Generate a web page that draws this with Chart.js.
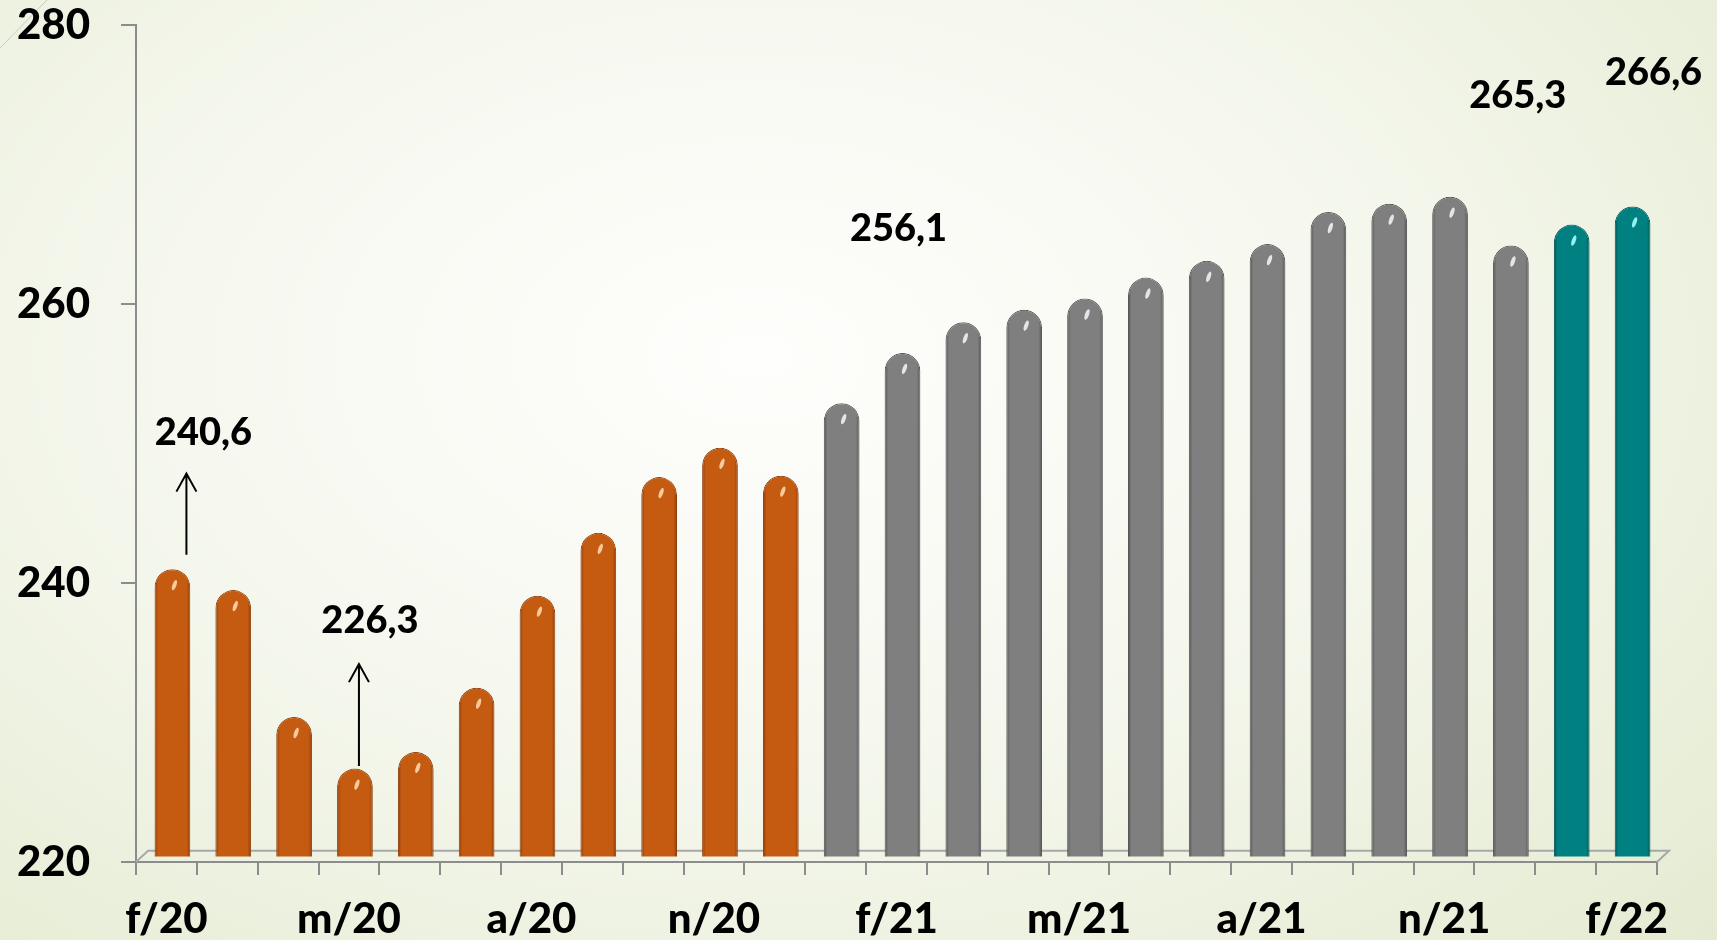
<!DOCTYPE html>
<html lang="pt">
<head>
<meta charset="utf-8">
<title>Índice mensal fev/2020 – fev/2022</title>
<script src="https://cdn.jsdelivr.net/npm/chart.js@4.4.1/dist/chart.umd.min.js"></script>
<style>
  html, body { margin: 0; padding: 0; }
  body {
    width: 1717px;
    height: 940px;
    overflow: hidden;
    background: radial-gradient(ellipse 80% 95% at 44% 38%, #fefefc 0%, #f6f8ef 42%, #e3eacf 100%);
  }
  canvas { display: block; }
</style>
</head>
<body>
<canvas id="chart" width="1717" height="940"></canvas>
<script>
// months, one label per bar (only every third one is printed)
const months2020 = ['f/20', 'm/20', 'a/20', 'm/20', 'j/20', 'j/20', 'a/20', 's/20', 'o/20', 'n/20', 'd/20'];
const months2021 = ['j/21', 'f/21', 'm/21', 'a/21', 'm/21', 'j/21', 'j/21', 'a/21', 's/21', 'o/21', 'n/21', 'd/21'];
const months2022 = ['j/22', 'f/22'];

const values2020 = [240.6, 239.1, 230.0, 226.3, 227.5, 232.1, 238.7, 243.2, 247.2, 249.3, 247.3];
const values2021 = [252.5, 256.1, 258.3, 259.2, 260.0, 261.5, 262.7, 263.9, 266.2, 266.8, 267.3, 263.8];
const values2022 = [265.3, 266.6];

const yTicks = [220, 240, 260, 280];

// bars that get their value written above them
const highlighted = [0, 3, 12, 23, 24];

const labels = [...months2020, ...months2021, ...months2022];
const values = [...values2020, ...values2021, ...values2022];

// fill / rim colour per year
const yearColors = [
  { base: '#C55A11', rim: '#8f3f0a', shine: 'rgba(255,214,170,0.9)' },
  { base: '#7F7F7F', rim: '#555555', shine: 'rgba(255,255,255,0.8)' },
  { base: '#008080', rim: '#005555', shine: 'rgba(160,255,255,0.9)' }
];
const yearOf = [
  ...values2020.map(() => 0),
  ...values2021.map(() => 1),
  ...values2022.map(() => 2)
];

const BAR_PCT = 0.587;
const FONT = 'Lato, "Open Sans", sans-serif';

// placement of the value callouts, relative to each bar's value point
const calloutStyle = {
  0:  { dx: 37,  dy: -130, arrow: { dx: 20, from: -20, to: -101 } },
  3:  { dx: 21,  dy: -141, arrow: { dx: 10, from: -8, to: -110 } },
  12: { dx: 2,   dy: -117 },
  23: { dx: -48, dy: -122 },
  24: { dx: 27,  dy: -127 }
};

const fmt = v => v.toFixed(1).replace('.', ',');

// pseudo-3D: bars sit half way back on a shallow floor
const depth = { dx: 6, dy: -5.5 };
const floor = { dx: 12, dy: -11.3 };

function cylinderFill(ctx) {
  const c = yearColors[yearOf[ctx.dataIndex] || 0];
  const chart = ctx.chart;
  const xs = chart.scales && chart.scales.x;
  if (!chart.chartArea || !xs || ctx.dataIndex === undefined) return c.base;
  const cx = xs.getPixelForValue(ctx.dataIndex);
  const half = xs.width / labels.length * BAR_PCT / 2;
  const g = chart.ctx.createLinearGradient(cx - half, 0, cx + half, 0);
  g.addColorStop(0, c.rim);
  g.addColorStop(0.1, c.base);
  g.addColorStop(0.9, c.base);
  g.addColorStop(1, c.rim);
  return g;
}

const decor = {
  id: 'decor',
  beforeDraw(chart) {
    const ctx = chart.ctx;
    ctx.save();
    ctx.strokeStyle = '#c6cdbb';
    ctx.lineWidth = 1;
    ctx.beginPath();
    ctx.moveTo(0, 48);
    ctx.lineTo(47, 0);
    ctx.stroke();
    ctx.restore();
  },
  beforeDatasetsDraw(chart) {
    const { ctx, chartArea: a } = chart;
    ctx.save();
    ctx.strokeStyle = '#a8a8a8';
    ctx.lineWidth = 2;
    ctx.beginPath();
    ctx.moveTo(a.left, a.bottom);
    ctx.lineTo(a.left + floor.dx, a.bottom + floor.dy);
    ctx.lineTo(a.right + floor.dx, a.bottom + floor.dy);
    ctx.lineTo(a.right, a.bottom);
    ctx.stroke();
    ctx.restore();
    ctx.save();
    ctx.translate(depth.dx, depth.dy);
  },
  afterDatasetsDraw(chart) {
    const ctx = chart.ctx;
    // small specular streak near each cap
    chart.getDatasetMeta(0).data.forEach((bar, i) => {
      ctx.save();
      ctx.translate(bar.x + 2, bar.y + 16);
      ctx.rotate(0.35);
      ctx.fillStyle = yearColors[yearOf[i]].shine;
      ctx.beginPath();
      ctx.ellipse(0, 0, 2, 5.5, 0, 0, Math.PI * 2);
      ctx.fill();
      ctx.restore();
    });
    ctx.restore();
  },
  afterDraw(chart) {
    const { ctx, scales: { x, y } } = chart;
    ctx.save();
    ctx.fillStyle = '#000';
    ctx.strokeStyle = '#000';
    ctx.lineWidth = 2;
    ctx.font = '900 38px ' + FONT;
    ctx.textAlign = 'center';
    ctx.textBaseline = 'alphabetic';
    highlighted.forEach(i => {
      const s = calloutStyle[i];
      const v = values[i];
      const px = x.getPixelForValue(i);
      const py = y.getPixelForValue(v);
      ctx.fillText(fmt(v), px + s.dx, py + s.dy);
      if (s.arrow) {
        const ax = px + s.arrow.dx;
        const tip = py + s.arrow.to;
        ctx.beginPath();
        ctx.moveTo(ax, py + s.arrow.from);
        ctx.lineTo(ax, tip);
        ctx.moveTo(ax - 10, tip + 18);
        ctx.lineTo(ax, tip);
        ctx.lineTo(ax + 10, tip + 18);
        ctx.stroke();
      }
    });
    ctx.restore();
  }
};

function draw() {
  new Chart(document.getElementById('chart'), {
    type: 'bar',
    data: {
      labels: labels,
      datasets: [{
        data: values,
        backgroundColor: cylinderFill,
        borderColor: ctx => yearColors[yearOf[ctx.dataIndex] || 0].rim,
        borderWidth: 1,
        borderSkipped: false,
        borderRadius: { topLeft: 18, topRight: 18, bottomLeft: 5, bottomRight: 5 },
        categoryPercentage: 1,
        barPercentage: BAR_PCT
      }]
    },
    options: {
      responsive: false,
      animation: false,
      layout: { padding: { top: 25, right: 60, bottom: 0, left: 0 } },
      plugins: {
        legend: { display: false },
        title: { display: false },
        tooltip: { enabled: false }
      },
      scales: {
        x: {
          offset: true,
          afterFit: s => { s.height = 78; },
          grid: {
            offset: true,
            drawOnChartArea: false,
            tickLength: 13,
            color: '#8c8c8c',
            lineWidth: 2
          },
          border: { display: true, color: '#8c8c8c', width: 2 },
          ticks: {
            autoSkip: false,
            maxRotation: 0,
            padding: 19,
            color: '#000',
            font: { family: FONT, weight: '900', size: 42 },
            callback: function (value, index) {
              return index % 3 === 0 ? this.getLabelForValue(value) : '';
            }
          }
        },
        y: {
          min: yTicks[0],
          max: yTicks[yTicks.length - 1],
          afterFit: s => {
            s.width = 136;
            s.paddingTop = 0;
            s.paddingBottom = 0;
          },
          afterBuildTicks: s => { s.ticks = yTicks.map(v => ({ value: v })); },
          grid: {
            drawOnChartArea: false,
            tickLength: 15,
            color: '#8c8c8c',
            lineWidth: 2
          },
          border: { display: true, color: '#8c8c8c', width: 2 },
          ticks: {
            padding: 31,
            color: '#000',
            font: { family: FONT, weight: '900', size: 42 }
          }
        }
      }
    },
    plugins: [decor]
  });
}

document.fonts.load('900 42px Lato').then(draw, draw);
</script>
</body>
</html>
